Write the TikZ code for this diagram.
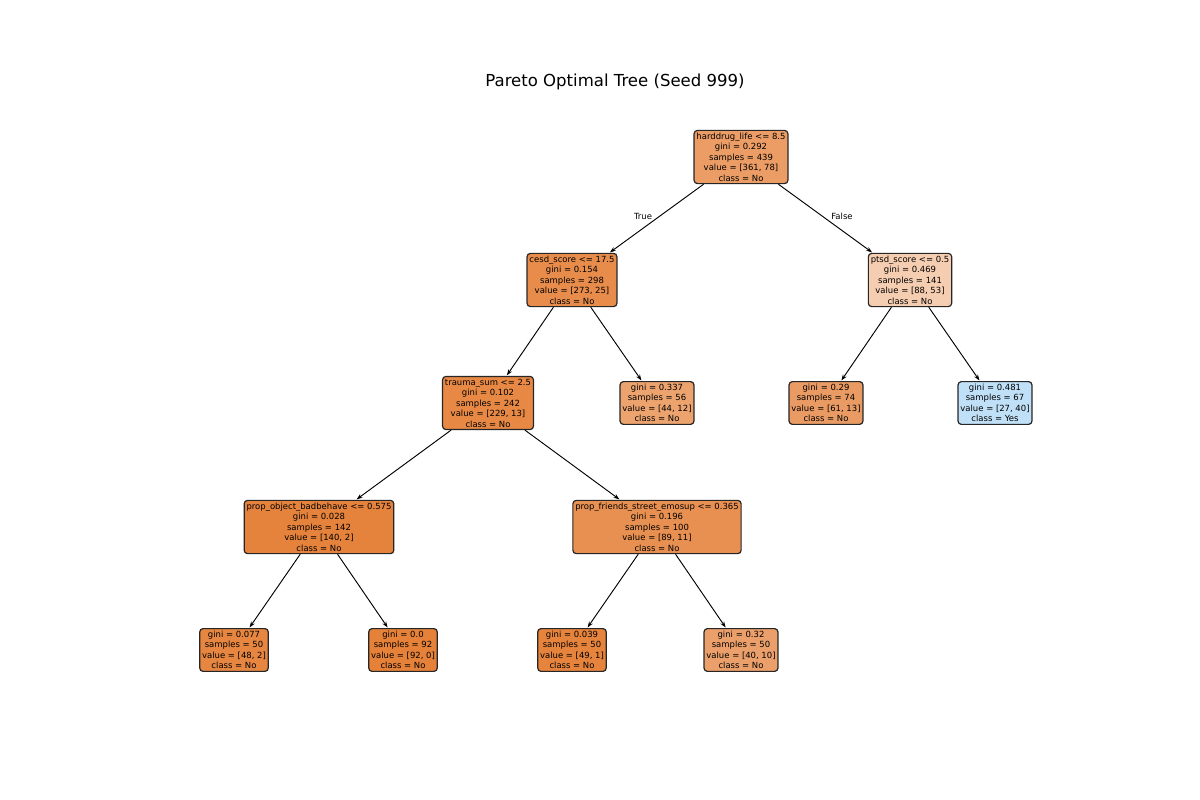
\documentclass[tikz,border=0pt]{standalone}
\usepackage{fontspec}
\setmainfont{DejaVu Sans}
\usetikzlibrary{arrows.meta}
\definecolor{clsno}{RGB}{229,129,57}
\definecolor{clsyes}{RGB}{57,157,229}
\tikzset{
  tnode/.style={draw=black!85, line width=0.9pt, rounded corners=2.5pt, align=center,
    inner sep=1.8pt, font=\fontsize{6.35}{7.85}\selectfont},
  tedge/.style={-{Stealth[length=4.5pt,width=3.2pt]}, line width=0.7pt, shorten >=0.5pt},
  tlabel/.style={font=\fontsize{6.35}{7.85}\selectfont}
}
\begin{document}
\begin{tikzpicture}[x=0.75pt,y=-0.75pt]
\useasboundingbox (0,0) rectangle (1200,800);
\node[font=\fontsize{12.4}{14}\selectfont] (title) at (615,82){Pareto Optimal Tree (Seed 999)};
\node[tnode, fill=clsno!78!white] (nid0) at (741,157){harddrug\_life <= 8.5\\gini = 0.292\\samples = 439\\value = [361, 78]\\class = No};
\node[tnode, fill=clsno!91!white] (nid1) at (572,280){cesd\_score <= 17.5\\gini = 0.154\\samples = 298\\value = [273, 25]\\class = No};
\node[tnode, fill=clsno!94!white] (nid2) at (488,403){trauma\_sum <= 2.5\\gini = 0.102\\samples = 242\\value = [229, 13]\\class = No};
\node[tnode, fill=clsno!99!white] (nid3) at (319,527){prop\_object\_badbehave <= 0.575\\gini = 0.028\\samples = 142\\value = [140, 2]\\class = No};
\node[tnode, fill=clsno!96!white] (nid4) at (234,650){gini = 0.077\\samples = 50\\value = [48, 2]\\class = No};
\draw[tedge](nid3) -- (nid4);
\node[tnode, fill=clsno] (nid5) at (403,650){gini = 0.0\\samples = 92\\value = [92, 0]\\class = No};
\draw[tedge](nid3) -- (nid5);
\node[tnode, fill=clsno!88!white] (nid6) at (657,527){prop\_friends\_street\_emosup <= 0.365\\gini = 0.196\\samples = 100\\value = [89, 11]\\class = No};
\node[tnode, fill=clsno!98!white] (nid7) at (572,650){gini = 0.039\\samples = 50\\value = [49, 1]\\class = No};
\draw[tedge](nid6) -- (nid7);
\node[tnode, fill=clsno!75!white] (nid8) at (741,650){gini = 0.32\\samples = 50\\value = [40, 10]\\class = No};
\draw[tedge](nid6) -- (nid8);
\draw[tedge](nid2) -- (nid3);
\draw[tedge](nid2) -- (nid6);
\node[tnode, fill=clsno!73!white] (nid9) at (657,403){gini = 0.337\\samples = 56\\value = [44, 12]\\class = No};
\draw[tedge](nid1) -- (nid2);
\draw[tedge](nid1) -- (nid9);
\node[tnode, fill=clsno!40!white] (nid10) at (910,280){ptsd\_score <= 0.5\\gini = 0.469\\samples = 141\\value = [88, 53]\\class = No};
\node[tnode, fill=clsno!79!white] (nid11) at (826,403){gini = 0.29\\samples = 74\\value = [61, 13]\\class = No};
\draw[tedge](nid10) -- (nid11);
\node[tnode, fill=clsyes!32!white] (nid12) at (995,403){gini = 0.481\\samples = 67\\value = [27, 40]\\class = Yes};
\draw[tedge](nid10) -- (nid12);
\draw[tedge](nid0) -- (nid1);
\draw[tedge](nid0) -- (nid10);
\node[tlabel] (ltrue) at (643,216){True};
\node[tlabel] (lfalse) at (842,216){False};
\end{tikzpicture}
\end{document}
